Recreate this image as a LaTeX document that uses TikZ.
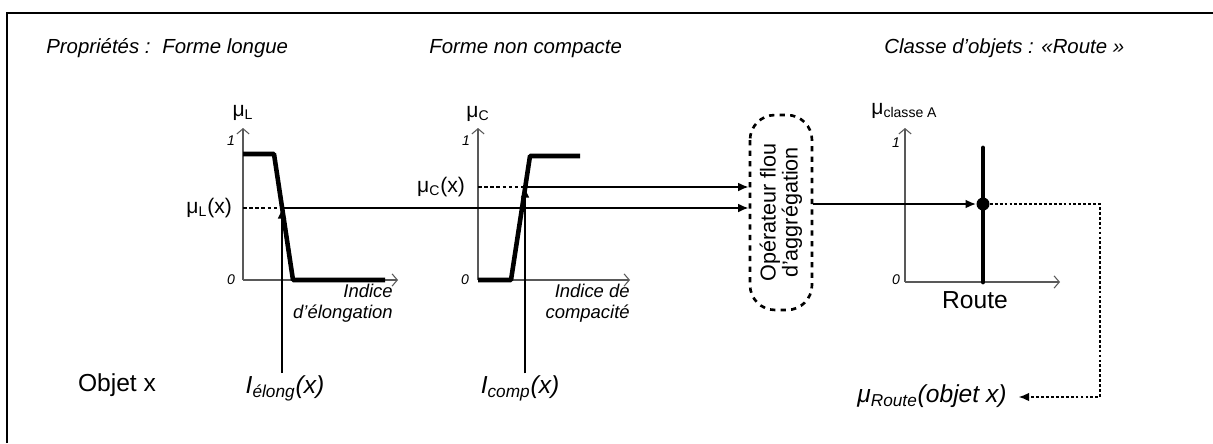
\documentclass[tikz,border=0pt]{standalone}
\usepackage{fontspec}
\setmainfont{Liberation Sans}
\usetikzlibrary{arrows.meta,positioning,calc}

\tikzset{
  axis/.style={draw=gray!70!black, line width=0.6pt, -{Straight Barb[length=3pt,width=7pt]}},
  guide/.style={dash pattern=on 2pt off 1.5pt, line width=0.8pt},
  memb/.style={line width=2.6pt, line join=round},
  link/.style={line width=1.1pt, -{Latex[length=6pt,width=5pt]}},
  feedback/.style={dash pattern=on 1.6pt off 1.2pt, line width=0.9pt},
  title/.style={font=\fontsize{11.6}{14}\selectfont\itshape, anchor=base west, inner sep=0pt},
  axlabel/.style={font=\fontsize{12}{14}\selectfont, inner sep=1pt},
  tick/.style={font=\fontsize{8}{9}\selectfont\itshape, inner sep=1pt},
  axname/.style={font=\fontsize{10.5}{12}\selectfont\itshape, align=right, inner sep=0pt, anchor=north east},
  biglabel/.style={font=\fontsize{14}{16}\selectfont, inner sep=1pt}
}

\begin{document}
\begin{tikzpicture}[x=0.02cm, y=-0.02cm]
  \useasboundingbox (0,0) rectangle (1213,443);

  % cadre
  \draw[line width=1.2pt] (7,443) -- (7,13) -- (1213,13);

  % titres
  \node[title] (prop) at (46,53) {Propriétés :};
  \node[title] (flong) at (162,53) {Forme longue};
  \node[title] (fnc) at (429,53) {Forme non compacte};
  \node[title] (classe) at (884,53) {Classe d’objets : «Route »};

  % graphe 1 : forme longue
  \coordinate (o1) at (243,280);
  \draw[axis] (o1) -- (243,128);
  \draw[axis] (o1) -- (398,280);
  \node[tick, anchor=east] (zeroL) at (237,280) {0};
  \node[tick, anchor=east] (unL) at (237,141) {1};
  \node[axlabel] (muL) at (243,113) {μ\textsubscript{L}};
  \draw[memb] (243,154) -- (274,154) -- (293,280) -- (385,280);
  \coordinate (mL) at (282,208);
  \draw[guide] (243,208) -- (mL);
  \node[axlabel, anchor=east] (muLx) at (234,208) {μ\textsubscript{L}(x)};
  \node[axname] (indL) at (393,284) {Indice\\d’élongation};

  % graphe 2 : forme non compacte
  \coordinate (o2) at (478,280);
  \draw[axis] (o2) -- (478,128);
  \draw[axis] (o2) -- (630,280);
  \node[tick, anchor=east] (zeroC) at (471,280) {0};
  \node[tick, anchor=east] (unC) at (472,141) {1};
  \node[axlabel] (muC) at (478,114) {μ\textsubscript{C}};
  \draw[memb] (478,280) -- (511,280) -- (530,156) -- (580,156);
  \coordinate (mC) at (525,187);
  \draw[guide] (478,187) -- (mC);
  \node[axlabel, anchor=east] (muCx) at (467,187) {μ\textsubscript{C}(x)};
  \node[axname] (indC) at (630,284) {Indice de\\compacité};

  % operateur d'agregation
  \node[draw, dashed, line width=1.5pt, rounded corners=0.5cm, rotate=90,
        minimum width=3.9cm, minimum height=1.24cm, align=center,
        font=\fontsize{12.3}{12.5}\selectfont] (agg) at (781,212.5)
        {Opérateur flou\\d’aggrégation};

  % graphe 3 : classe Route
  \coordinate (o3) at (905,282);
  \draw[axis] (o3) -- (905,128);
  \draw[axis] (o3) -- (1060,282);
  \node[tick, anchor=east] (zeroR) at (902,280) {0};
  \node[tick, anchor=east] (unR) at (902,143) {1};
  \node[axlabel, anchor=west, inner sep=0pt] (muA) at (871,111) {μ\textsubscript{classe A}};
  \draw[line width=2.8pt, line cap=round] (983,148) -- (983,282);
  \node[circle, fill, inner sep=0pt, minimum size=0.26cm] (dotR) at (983,204) {};
  \node[biglabel] (route) at (975,300) {Route};

  % objet et indices
  \node[biglabel] (objet) at (117,385) {Objet x};
  \node[biglabel, font=\fontsize{14}{16}\selectfont\itshape] (ielong) at (285,388) {I\textsubscript{élong}(x)};
  \node[biglabel, font=\fontsize{14}{16}\selectfont\itshape] (icomp) at (520,388) {I\textsubscript{comp}(x)};
  \node[biglabel, font=\fontsize{14}{16}\selectfont\itshape] (muroute) at (932,396) {μ\textsubscript{Route}(objet x)};

  % liaisons
  \draw[link] (ielong.north -| mL) -- (mL);
  \draw[link] (icomp.north -| mC) -- (mC);
  \draw[link] (mL) -- (mL -| agg.north);
  \draw[link] (mC) -- (mC -| agg.north);
  \draw[link] (dotR -| agg.south) -- (dotR);
  \coordinate (fbcorner) at (1100,397);
  \draw[feedback, -{Latex[length=6pt,width=5pt]}, shorten >=0.2cm]
    (dotR.east) -- (dotR.east -| fbcorner) -- (fbcorner) -- (fbcorner -| muroute.east);
\end{tikzpicture}
\end{document}
